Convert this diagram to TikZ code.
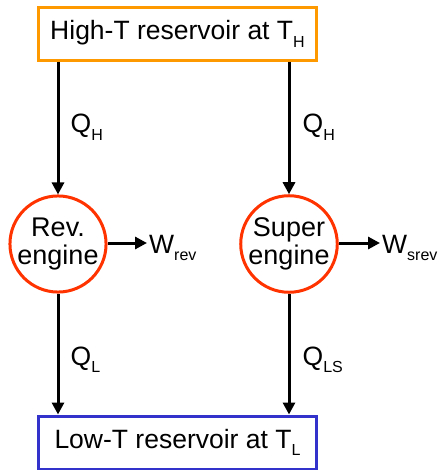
\documentclass[tikz,border=0pt]{standalone}
\usepackage{fontspec}
\setmainfont{Liberation Sans}
\usetikzlibrary{arrows.meta,positioning}
\definecolor{hotorange}{RGB}{255,153,0}
\definecolor{coldblue}{RGB}{51,51,204}
\definecolor{enginered}{RGB}{255,51,0}
\newcommand{\lowsub}[1]{\raisebox{-0.28em}{\fontsize{16}{16}\selectfont #1}}

\begin{document}
\begin{tikzpicture}[x=1pt,y=1pt,
  reservoir/.style={draw,line width=3pt,minimum width=278pt,minimum height=53pt,inner sep=0pt,font=\fontsize{26.5}{26}\selectfont},
  engine/.style={circle,draw=enginered,line width=3pt,minimum size=86pt,inner sep=0pt,align=center,font=\fontsize{27}{28}\selectfont},
  flow/.style={line width=3pt,-{Triangle[length=12pt,width=12pt]}},
  lbl/.style={anchor=base west,inner sep=0pt,font=\fontsize{26.5}{26}\selectfont}]
			\useasboundingbox (0,0) rectangle (441,-470);
			
			% reservoirs
			\node[reservoir,draw=hotorange] (hot) at (177.5,-34) {High-T reservoir at T\lowsub{H}};
			\node[reservoir,draw=coldblue] (cold) at (177.5,-442.5) {Low-T reservoir at T\lowsub{L}};
			
			% engines
			\node[engine] (rev) at (58,-244) {Rev.\\engine};
			\node[engine] (super) at (289,-244) {Super\\engine};
			
			% heat flows
			\draw[flow] (rev.north |- hot.south) -- (rev.north);
			\draw[flow] (super.north |- hot.south) -- (super.north);
			\draw[flow] (rev.south) -- (rev.south |- cold.north);
			\draw[flow] (super.south) -- (super.south |- cold.north);
			\node[lbl] (qhrev) at (70.5,-133) {Q\lowsub{H}};
			\node[lbl] (qhsup) at (302.5,-133) {Q\lowsub{H}};
			\node[lbl] (ql) at (70.5,-365) {Q\lowsub{L}};
			\node[lbl] (qls) at (302.5,-365) {Q\lowsub{LS}};
			
			% work out
			\coordinate (wrevend) at (147,-243);
			\coordinate (wsupend) at (380,-243);
			\draw[flow] (rev.east |- wrevend) -- (wrevend);
			\draw[flow] (super.east |- wsupend) -- (wsupend);
			\node[lbl] (wrev) at (149,-253) {W\lowsub{rev}};
			\node[lbl] (wsrev) at (382,-253) {W\lowsub{srev}};
			
		\end{tikzpicture}
\end{document}
